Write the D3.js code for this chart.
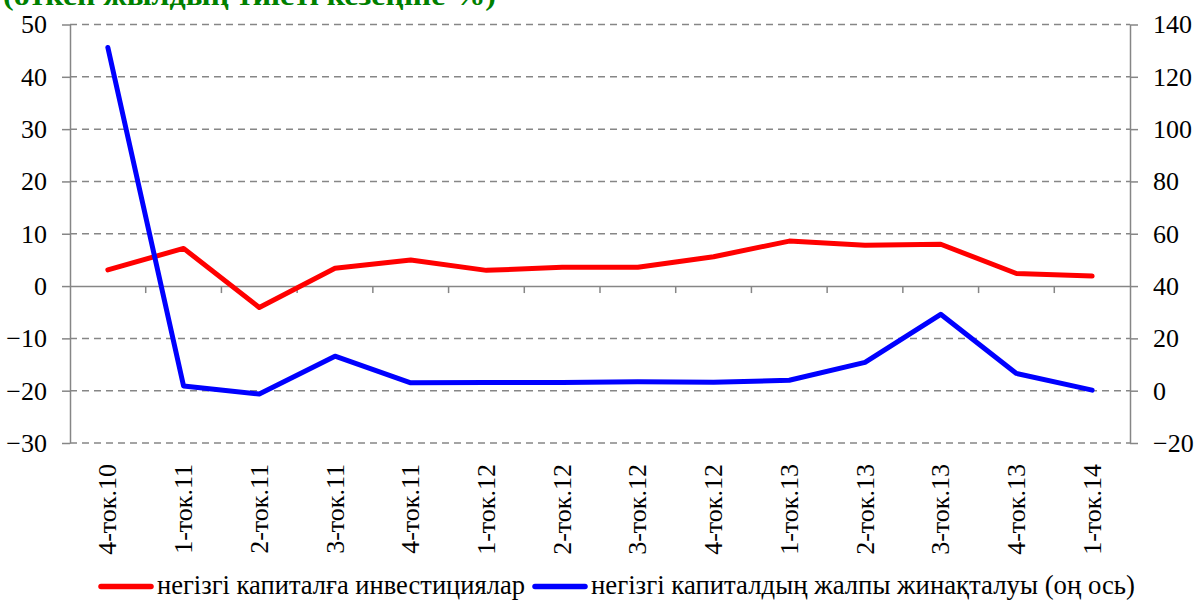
<!DOCTYPE html>
<html>
<head>
<meta charset="utf-8">
<script src="https://cdn.jsdelivr.net/npm/d3@7"></script>
<style>
  html, body { margin: 0; padding: 0; background: #fff; }
  svg { display: block; }
</style>
</head>
<body>
<svg id="chart" width="1195" height="601"></svg>
<script>
const title = "(өткен жылдың тиісті кезеңіне %)";
const categories = ["4-ток.10","1-ток.11","2-ток.11","3-ток.11","4-ток.11","1-ток.12","2-ток.12","3-ток.12","4-ток.12","1-ток.13","2-ток.13","3-ток.13","4-ток.13","1-ток.14"];
const investments = [3.1, 7.2, -4.1, 3.4, 5.0, 3.0, 3.6, 3.6, 5.6, 8.6, 7.8, 8.0, 2.4, 1.9];
const grossFormation = [131.2, 1.8, -1.3, 13.2, 3.0, 3.1, 3.1, 3.4, 3.2, 4.0, 10.8, 29.2, 6.6, 0.2];
const leftTicks = [-30, -20, -10, 0, 10, 20, 30, 40, 50];
const rightTicks = [-20, 0, 20, 40, 60, 80, 100, 120, 140];
const seriesNames = ["негізгі капиталға инвестициялар", "негізгі капиталдың жалпы жинақталуы (оң ось)"];

// pick the first installed serif face (Times-like)
function fontAvailable(name) {
  const ctx = document.createElement("canvas").getContext("2d");
  const s = "mmmwwwlliiII0123456789негізгі";
  return ["monospace", "sans-serif"].some(fb => {
    ctx.font = `40px ${fb}`;
    const a = ctx.measureText(s).width;
    ctx.font = `40px "${name}", ${fb}`;
    return ctx.measureText(s).width !== a;
  });
}
const serifCandidates = ["Liberation Serif", "Times New Roman", "Tinos", "DejaVu Serif", "Noto Serif", "FreeSerif"];
const picked = serifCandidates.find(fontAvailable);
const FONT = picked ? `"${picked}", serif` : "serif";

const svg = d3.select("#chart");
const pLeft = 70, pRight = 1130, pTop = 24.5, pBottom = 443;
const grey = "#868686";

const x = d3.scaleBand().domain(categories).range([pLeft, pRight]).padding(0);
const yL = d3.scaleLinear().domain([-30, 50]).range([pBottom, pTop]);
const yR = d3.scaleLinear().domain([-20, 140]).range([pBottom, pTop]);

// title (partially cut off at top, as in the reference)
svg.append("text").attr("x", 3).attr("y", 4.5)
  .attr("textLength", 493).attr("lengthAdjust", "spacingAndGlyphs")
  .style("font-family", FONT)
  .style("font-weight", "bold").style("font-size", "27px").style("fill", "#008000")
  .text(title);

// gridlines
svg.append("g").selectAll("line").data(leftTicks.filter(d => d !== 0)).join("line")
  .attr("x1", pLeft).attr("x2", pRight)
  .attr("y1", d => yL(d)).attr("y2", d => yL(d))
  .attr("stroke", grey).attr("stroke-width", 1.5).attr("stroke-dasharray", "7,5");

// left axis
const gL = svg.append("g").attr("transform", `translate(${pLeft},0)`)
  .call(d3.axisLeft(yL).tickValues(leftTicks).tickSize(8).tickSizeOuter(0).tickPadding(15).tickFormat(d3.format("d")));
// right axis
const gR = svg.append("g").attr("transform", `translate(${pRight},0)`)
  .call(d3.axisRight(yR).tickValues(rightTicks).tickSize(8).tickSizeOuter(0).tickPadding(15).tickFormat(d3.format("d")));
[gL, gR].forEach(g => {
  g.attr("font-family", null).attr("font-size", null);
  g.select(".domain").attr("stroke", grey).attr("stroke-width", 1.5);
  g.selectAll(".tick line").attr("stroke", grey).attr("stroke-width", 1.5);
  g.selectAll(".tick text").style("font-size", "26px").style("font-family", FONT).attr("fill", "#000");
});

// category axis at zero
const gX = svg.append("g").attr("transform", `translate(0,${yL(0)})`)
  .call(d3.axisBottom(x).tickSize(0).tickFormat(""));
gX.select(".domain").attr("stroke", grey).attr("stroke-width", 1.5);
svg.append("g").selectAll("line").data(categories.slice(1)).join("line")
  .attr("x1", d => x(d)).attr("x2", d => x(d))
  .attr("y1", yL(0)).attr("y2", yL(0) + 7)
  .attr("stroke", grey).attr("stroke-width", 1.5);

// category labels
svg.append("g").selectAll("text").data(categories).join("text")
  .attr("transform", d => `translate(${x(d) + x.bandwidth() / 2},464) rotate(-90)`)
  .attr("text-anchor", "end").attr("dy", "0.33em")
  .style("font-family", FONT).style("font-size", "26px")
  .text(d => d);

// lines
const lineL = d3.line().x((d, i) => x(categories[i]) + x.bandwidth() / 2).y(d => yL(d));
const lineR = d3.line().x((d, i) => x(categories[i]) + x.bandwidth() / 2).y(d => yR(d));
svg.append("path").datum(investments).attr("d", lineL)
  .attr("fill", "none").attr("stroke", "#ff0000").attr("stroke-width", 5)
  .attr("stroke-linejoin", "round").attr("stroke-linecap", "round");
svg.append("path").datum(grossFormation).attr("d", lineR)
  .attr("fill", "none").attr("stroke", "#0000ff").attr("stroke-width", 5)
  .attr("stroke-linejoin", "round").attr("stroke-linecap", "round");

// legend
const legend = [
  { name: seriesNames[0], color: "#ff0000", x: 101, len: 368 },
  { name: seriesNames[1], color: "#0000ff", x: 535, len: 544 }
];
const lg = svg.append("g");
legend.forEach(l => {
  lg.append("line").attr("x1", l.x).attr("x2", l.x + 50).attr("y1", 586.5).attr("y2", 586.5)
    .attr("stroke", l.color).attr("stroke-width", 5.5).attr("stroke-linecap", "round");
  lg.append("text").attr("x", l.x + 56).attr("y", 594)
    .attr("textLength", l.len).attr("lengthAdjust", "spacingAndGlyphs")
    .style("font-family", FONT).style("font-size", "27px").text(l.name);
});
</script>
</body>
</html>
